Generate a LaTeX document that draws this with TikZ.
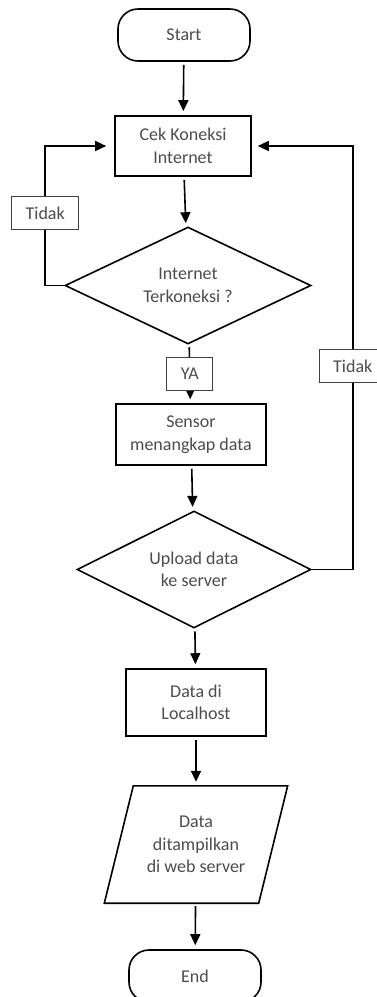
\documentclass[tikz,border=0pt]{standalone}
\usepackage{fontspec}
\setmainfont{Carlito}
\usetikzlibrary{shapes.geometric,arrows.meta}

\tikzset{
    terminal/.style={draw, line width=1.6pt, rounded corners=20pt, minimum width=132pt, minimum height=52pt},
    process/.style={draw, line width=1.6pt, align=center, inner sep=0pt},
    decision/.style={draw, diamond, aspect=2, line width=1.6pt, align=center, inner sep=0pt},
    io/.style={align=center, inner sep=0pt},
    tag/.style={draw=black!75, fill=white, line width=0.8pt, minimum height=33pt, inner xsep=14pt},
    flow/.style={line width=1.6pt, -{Triangle[length=11pt,width=10pt]}, shorten <=3pt, shorten >=4pt}
}

\begin{document}
\begin{tikzpicture}[x=1pt, y=-1pt, font=\fontsize{18}{22.5}\selectfont, text=black!70]
    \path[use as bounding box, clip] (0,0) rectangle (377,997);
    \node[terminal] (start) at (184,35) {Start};
    \node[process, minimum width=136pt, minimum height=60pt] (cek) at (183,146) {Cek Koneksi\\Internet};
    \node[decision, minimum width=246pt, minimum height=117pt] (net) at (188,285.5) {Internet\\Terkoneksi ?};
    \node[process, minimum width=150pt, minimum height=61pt] (sensor) at (191,434.5) {Sensor\\menangkap data};
    \node[decision, minimum width=234pt, minimum height=117pt] (upload) at (194,569.5) {Upload data\\ke server};
    \node[process, minimum width=140pt, minimum height=67pt] (local) at (196,702.5) {Data di\\Localhost};
    \node[io, minimum width=154pt, minimum height=117pt] (show) at (196,844.5) {Data\\ditampilkan\\di web server};
    \node[terminal] (end) at (195,976) {End};
    % parallelogram round the output node
    \draw[line width=1.6pt] ([xshift=14.5pt]show.north west) -- ([xshift=14.5pt]show.north east)
        -- ([xshift=-14.5pt]show.south east) -- ([xshift=-14.5pt]show.south west) -- cycle;

    \draw[flow] (start) -- (cek);
    \draw[flow] (cek) -- (net);
    \draw[flow] (net) -- node[tag] {YA} (sensor);
    \draw[flow] (sensor) -- (upload);
    \draw[flow] (upload) -- (local);
    \draw[flow] (local) -- (show);
    \draw[flow] (show) -- (end);
    % loops back to the check
    \draw[flow, shorten <=0pt, shorten >=8pt] (net.west) -- ++(-19,0) |- node[tag, pos=0.26] {Tidak} (cek.west);
    \draw[flow, shorten <=0pt, shorten >=6pt] (upload.east) -- ++(41,0) |- node[tag, pos=0.24] {Tidak} (cek.east);
\end{tikzpicture}
\end{document}
